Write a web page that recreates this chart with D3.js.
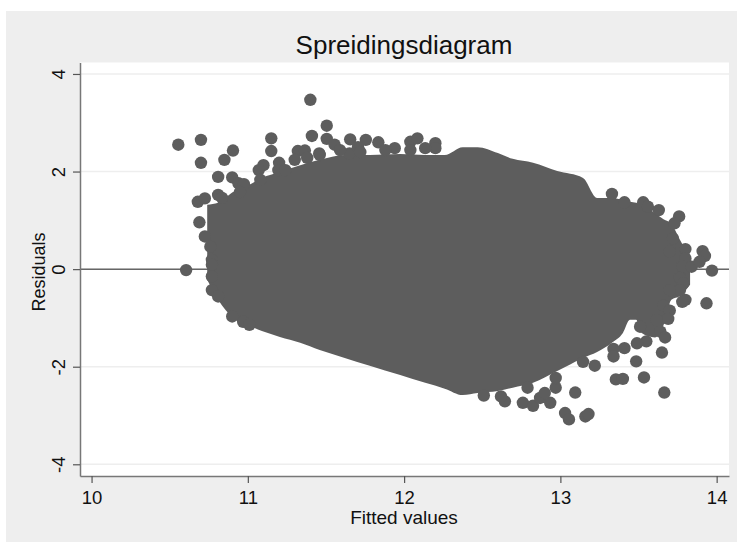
<!DOCTYPE html>
<html lang="en">
<head>
<meta charset="utf-8">
<title>Spreidingsdiagram</title>
<script src="https://d3js.org/d3.v7.min.js"></script>
<style>
  html, body { margin: 0; padding: 0; background: #fff; }
  svg { display: block; }
  text { font-family: "Liberation Sans", Arial, sans-serif; fill: #111; }
</style>
</head>
<body>
<script>
// tick labels
var xTicks = [10, 11, 12, 13, 14];
var yTicks = [-4, -2, 0, 2, 4];

// solid middle of the cloud: too dense to read single points, so upper/lower edge per fitted value
var massX = [10.74, 10.81, 10.905, 11.01, 11.09, 11.205, 11.335, 11.46, 11.62, 11.78, 11.975, 12.135, 12.26,
             12.375, 12.47, 12.60, 12.695, 12.825, 12.98, 13.145, 13.235, 13.33, 13.40, 13.445, 13.485, 13.52,
             13.605, 13.66, 13.71, 13.765, 13.83];
var massUpper = [1.32, 1.36, 1.58, 1.73, 1.87, 1.99, 2.13, 2.24, 2.34, 2.34, 2.36, 2.34, 2.34,
                 2.50, 2.50, 2.38, 2.26, 2.18, 2.01, 1.87, 1.46, 1.46, 1.42, 1.38, 1.36, 1.32,
                 1.15, 1.02, 0.93, 0.60, 0.23];
var massLower = [-0.22, -0.63, -1.0, -1.16, -1.27, -1.39, -1.51, -1.66, -1.82, -1.98, -2.17, -2.33, -2.45,
                 -2.58, -2.54, -2.50, -2.43, -2.33, -2.09, -1.82, -1.70, -1.51, -1.31, -1.04, -1.04, -1.31,
                 -1.40, -1.15, -0.63, -0.55, -0.32];

// single dots around the rim
var fitted = [10.555, 10.70, 10.70, 10.85, 10.905, 10.81, 11.15, 11.15, 11.20, 11.10, 11.07, 11.40, 11.41, 11.505,
              11.505, 11.32, 11.365, 11.457, 10.90, 10.94, 10.975, 10.68, 10.725, 10.81, 11.555, 11.655, 11.755,
              11.65, 11.705, 11.835, 11.94, 12.04, 12.085, 12.20, 12.20, 11.08, 11.195,
              10.835, 10.95, 11.24, 11.30, 11.38, 11.46, 11.59, 11.72, 11.88, 12.04, 12.135,
              13.33, 13.41, 13.53, 13.56, 13.63, 13.76, 13.73, 13.72, 13.80, 13.91, 13.925, 13.70, 13.80, 13.78,
              13.84, 13.89, 13.97, 13.765, 13.935, 13.80, 13.78, 13.785, 13.765, 13.70, 13.66, 13.64, 13.67, 13.65,
              13.55, 13.49, 13.485, 13.41, 13.34, 13.34, 13.22, 13.355, 13.40, 13.535, 13.665, 13.51, 13.615,
              13.70, 13.69,
              12.51, 12.645, 12.76, 12.825, 12.935, 12.97, 13.095, 13.03, 13.055, 13.16, 13.18, 12.87, 12.90,
              12.97, 13.145, 12.62, 12.79,
              10.69, 10.725, 10.76, 10.77, 10.77, 10.605, 10.77, 10.77, 10.81, 10.90, 10.97, 11.01];
var residuals = [2.55, 2.65, 2.18, 2.24, 2.43, 1.89, 2.68, 2.42, 2.18, 2.13, 2.03, 3.47, 2.73, 2.94,
                 2.67, 2.42, 2.43, 2.37, 1.88, 1.76, 1.74, 1.38, 1.45, 1.52, 2.55, 2.66, 2.65,
                 2.37, 2.50, 2.60, 2.48, 2.61, 2.68, 2.58, 2.48, 1.83, 2.03,
                 1.46, 1.58, 2.03, 2.24, 2.28, 2.34, 2.44, 2.40, 2.44, 2.44, 2.48,
                 1.54, 1.37, 1.37, 1.28, 1.21, 1.08, 0.94, 0.63, 0.41, 0.37, 0.27, 0.36, 0.22, 0.05,
                 0.05, 0.15, -0.03, -0.18, -0.70, -0.63, -0.67, -0.29, -0.43, -0.43, -0.75, -1.28, -1.40, -1.71,
                 -1.48, -1.52, -1.89, -1.62, -1.635, -1.79, -1.98, -2.26, -2.25, -2.22, -2.53, -1.18, -1.04,
                 -0.85, -1.02,
                 -2.59, -2.71, -2.74, -2.80, -2.74, -2.43, -2.53, -2.95, -3.08, -3.02, -2.97, -2.64, -2.54,
                 -2.23, -1.90, -2.61, -2.43,
                 0.96, 0.67, 0.46, 0.19, 0.09, -0.02, -0.15, -0.43, -0.56, -0.97, -1.08, -1.14];

var w = 737, h = 542;
var left = 80, right = 729, top_ = 62.5, bottom = 476;
var dotColor = "#5d5d5d";

var svg = d3.select("body").append("svg")
    .attr("width", w)
    .attr("height", h);

// grey graph region, white strip stays on top and left
svg.append("rect").attr("x", 6).attr("y", 11).attr("width", w - 6).attr("height", h - 11).attr("fill", "#eeeeee");
svg.append("rect").attr("x", left).attr("y", top_).attr("width", right - left).attr("height", bottom - top_).attr("fill", "#fff");

var x = d3.scaleLinear().domain([9.926, 14.079]).range([left, right]);
var y = d3.scaleLinear().domain([-4.24, 4.235]).range([bottom, top_]);

// gridlines
svg.selectAll("line.grid")
    .data(yTicks)
    .enter().append("line")
    .attr("class", "grid")
    .attr("x1", left).attr("x2", right)
    .attr("y1", function(d) { return y(d); })
    .attr("y2", function(d) { return y(d); })
    .attr("stroke", "#eeeeee")
    .attr("stroke-width", 1.5);

// line at zero
svg.append("line")
    .attr("x1", left).attr("x2", right)
    .attr("y1", y(0)).attr("y2", y(0))
    .attr("stroke", "#666")
    .attr("stroke-width", 1.5);

var area = d3.area()
    .x(function(d) { return x(d); })
    .y0(function(d, i) { return y(massLower[i]); })
    .y1(function(d, i) { return y(massUpper[i]); })
    .curve(d3.curveMonotoneX);

svg.append("path")
    .attr("d", area(massX))
    .attr("fill", dotColor);

svg.selectAll("circle")
    .data(fitted)
    .enter().append("circle")
    .attr("cx", function(d) { return x(d); })
    .attr("cy", function(d, i) { return y(residuals[i]); })
    .attr("r", 6.2)
    .attr("fill", dotColor);

// axes, String() keeps the plain hyphen of the original labels
var xAxis = svg.append("g")
    .attr("transform", "translate(0," + bottom + ")")
    .call(d3.axisBottom(x).tickValues(xTicks).tickSize(7).tickPadding(8).tickSizeOuter(0).tickFormat(String));
var yAxis = svg.append("g")
    .attr("transform", "translate(" + left + ",0)")
    .call(d3.axisLeft(y).tickValues(yTicks).tickSize(7).tickPadding(5).tickSizeOuter(0).tickFormat(String));

xAxis.selectAll("text").style("font-size", "18.5px");
yAxis.selectAll("text")
    .style("font-size", "18.5px")
    .attr("text-anchor", "middle")
    .attr("dy", null)
    .attr("x", null)
    .attr("transform", "translate(-15,0) rotate(-90)");
svg.selectAll(".domain").attr("stroke", "#777").attr("stroke-width", 1.5);
svg.selectAll(".tick line").attr("stroke", "#555").attr("stroke-width", 1.2);

// titles
svg.append("text")
    .attr("x", 404).attr("y", 54)
    .attr("text-anchor", "middle")
    .style("font-size", "26px")
    .text("Spreidingsdiagram");
svg.append("text")
    .attr("x", 404).attr("y", 524)
    .attr("text-anchor", "middle")
    .style("font-size", "19px")
    .text("Fitted values");
svg.append("text")
    .attr("transform", "translate(45,272) rotate(-90)")
    .attr("text-anchor", "middle")
    .style("font-size", "18px")
    .text("Residuals");
</script>
</body>
</html>
